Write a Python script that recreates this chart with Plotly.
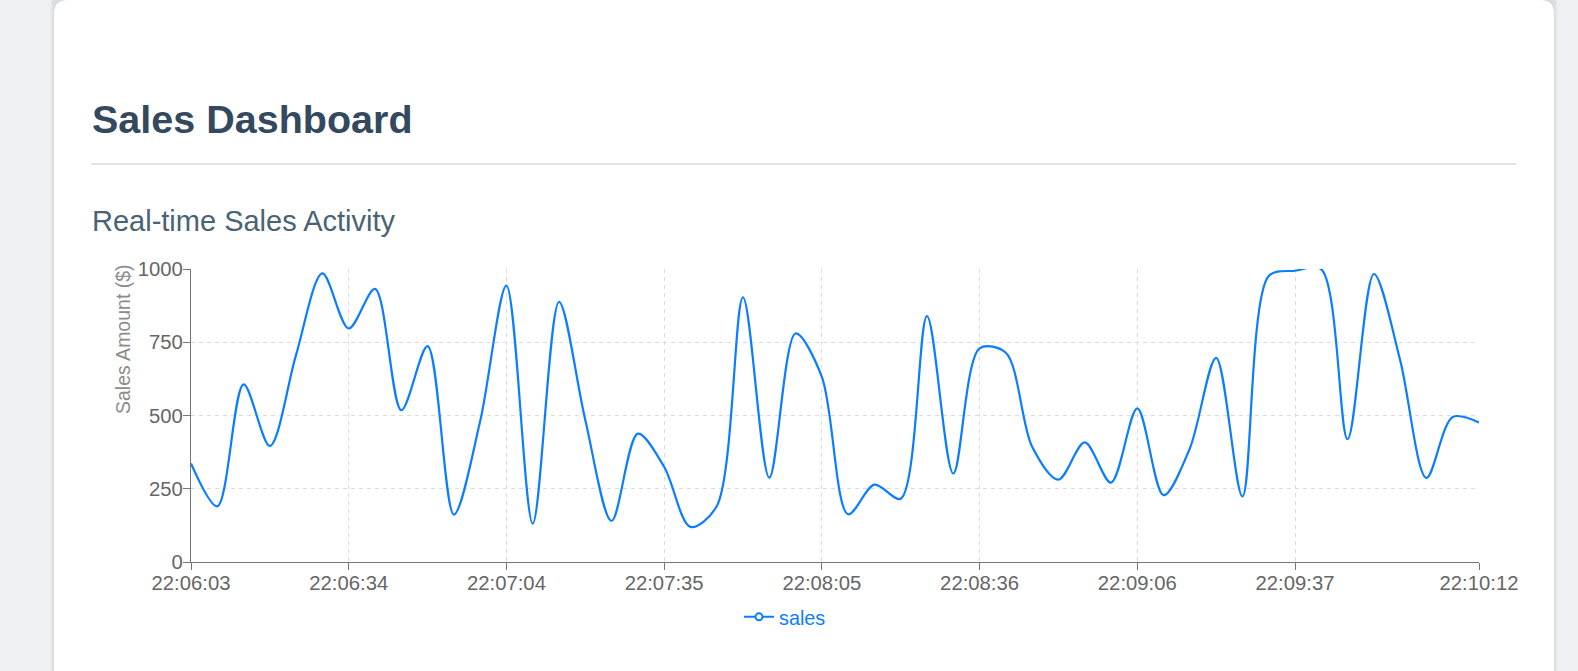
import plotly.graph_objects as go

# ---------------- data ----------------
times = ["22:06:03", "22:06:08", "22:06:14", "22:06:19", "22:06:24", "22:06:29",
         "22:06:34", "22:06:39", "22:06:44", "22:06:49", "22:06:54", "22:06:59",
         "22:07:04", "22:07:09", "22:07:15", "22:07:20", "22:07:25", "22:07:30",
         "22:07:35", "22:07:40", "22:07:45", "22:07:50", "22:07:55", "22:08:00",
         "22:08:05", "22:08:10", "22:08:15", "22:08:21", "22:08:26", "22:08:31",
         "22:08:36", "22:08:41", "22:08:46", "22:08:51", "22:08:56", "22:09:01",
         "22:09:06", "22:09:11", "22:09:16", "22:09:22", "22:09:27", "22:09:32",
         "22:09:37", "22:09:42", "22:09:47", "22:09:52", "22:09:57", "22:10:02",
         "22:10:07", "22:10:12"]

sales = [336, 190, 606, 396, 708, 985, 797, 932, 518, 737,
         162, 480, 943, 131, 888, 485, 140, 438, 325, 120,
         190, 903, 288, 780, 632, 163, 264, 216, 839, 302,
         729, 714, 393, 281, 408, 271, 524, 228, 388, 697,
         224, 976, 994, 999, 419, 983, 689, 287, 495, 476]

x_tick_labels = ["22:06:03", "22:06:34", "22:07:04", "22:07:35", "22:08:05",
                 "22:08:36", "22:09:06", "22:09:37", "22:10:12"]
y_ticks = [0, 250, 500, 750, 1000]

series_name = "sales"
title_text = "Sales Dashboard"
subtitle_text = "Real-time Sales Activity"
y_title = "Sales Amount ($)"

# ---------------- style ----------------
W, H = 1578, 671
ML, MR, MT, MB = 191, 99, 269, 109
PW, PH = W - ML - MR, H - MT - MB
BLUE = "#0b7dff"
FONT = "Liberation Sans, Arial, Helvetica, sans-serif"


def px(x):
    return (x - ML) / PW


def py(y):
    return (MT + PH - y) / PH


def rounded_rect(x0, y0, x1, y1, r):
    # pixel coords (y down) -> paper path
    pts = [
        f"M{px(x0 + r)},{py(y0)}",
        f"L{px(x1 - r)},{py(y0)}",
        f"Q{px(x1)},{py(y0)} {px(x1)},{py(y0 + r)}",
        f"L{px(x1)},{py(y1)}",
        f"L{px(x0)},{py(y1)}",
        f"L{px(x0)},{py(y0 + r)}",
        f"Q{px(x0)},{py(y0)} {px(x0 + r)},{py(y0)}",
        "Z",
    ]
    return " ".join(pts)


fig = go.Figure()

fig.add_trace(go.Scatter(
    x=times, y=sales, mode="lines", name=series_name,
    line=dict(color=BLUE, width=2.2, shape="spline", smoothing=0.9),
    showlegend=False, hoverinfo="x+y",
))

# legend entry (line with hollow circle icon)
fig.add_trace(go.Scatter(
    x=[None], y=[None], mode="lines+markers", name=series_name,
    line=dict(color=BLUE, width=2),
    marker=dict(symbol="circle", size=7, color="white",
                line=dict(color=BLUE, width=2)),
    showlegend=True,
))

shapes = []
# card shadow + card
for d, a in [(4, 0.025), (2.5, 0.03), (1.2, 0.04)]:
    shapes.append(dict(type="path", xref="paper", yref="paper", layer="below",
                       path=rounded_rect(54 - d, -20, 1554 + d, H + 40, 14 + d),
                       fillcolor=f"rgba(30,40,60,{a})", line=dict(width=0)))
shapes.append(dict(type="path", xref="paper", yref="paper", layer="below",
                   path=rounded_rect(54, 0, 1554, H + 40, 14),
                   fillcolor="white", line=dict(width=0)))
# divider
shapes.append(dict(type="line", xref="paper", yref="paper", layer="below",
                   x0=px(91), x1=px(1516), y0=py(164), y1=py(164),
                   line=dict(color="#e1e3e7", width=2)))

annotations = [
    dict(text=f"<b>{title_text}</b>", xref="paper", yref="paper",
         x=px(89.5), y=py(119), xanchor="left", yanchor="middle",
         showarrow=False, font=dict(family=FONT, size=39.5, color="#34495e")),
    dict(text=subtitle_text, xref="paper", yref="paper",
         x=px(89.5), y=py(221), xanchor="left", yanchor="middle",
         showarrow=False, font=dict(family=FONT, size=29, color="#4a6374")),
    dict(text=y_title, xref="paper", yref="paper", textangle=-90,
         x=px(123), y=py(339), xanchor="center", yanchor="middle",
         showarrow=False, font=dict(family=FONT, size=19.5, color="#8c8c8c")),
]

fig.update_layout(
    width=W, height=H,
    margin=dict(l=ML, r=MR, t=MT, b=MB, pad=0),
    paper_bgcolor="#eef0f3",
    plot_bgcolor="rgba(0,0,0,0)",
    font=dict(family=FONT, size=19, color="#666666"),
    shapes=shapes,
    annotations=annotations,
    showlegend=True,
    legend=dict(orientation="h", x=px(739), y=py(617), xanchor="left",
                yanchor="middle", bgcolor="rgba(0,0,0,0)", borderwidth=0,
                font=dict(family=FONT, size=19.8, color=BLUE)),
    hovermode="closest",
)

fig.update_xaxes(
    type="category", range=[0, len(times) - 1],
    tickmode="array", tickvals=x_tick_labels, ticktext=x_tick_labels,
    showline=True, linecolor="#777777", linewidth=1.3,
    ticks="outside", ticklen=7, tickcolor="#777777", tickwidth=1.3,
    showgrid=True, gridcolor="#dcdcdc", gridwidth=1, griddash="4px,4px",
    zeroline=False, tickfont=dict(family=FONT, size=20.3, color="#666666"),
    ticklabelstandoff=-5,
    fixedrange=True,
)
fig.update_yaxes(
    range=[0, 1000], tickmode="array", tickvals=y_ticks,
    showline=True, linecolor="#777777", linewidth=1.3,
    ticks="outside", ticklen=7, tickcolor="#777777", tickwidth=1.3,
    showgrid=True, gridcolor="#dcdcdc", gridwidth=1, griddash="4px,4px",
    zeroline=False, tickfont=dict(family=FONT, size=20.3, color="#666666"),
    ticklabelstandoff=-4,
    fixedrange=True,
)

fig.write_html(
    "out.html",
    config={"displayModeBar": False},
    post_script="document.body.style.margin='0';document.body.style.overflow='hidden';",
)
